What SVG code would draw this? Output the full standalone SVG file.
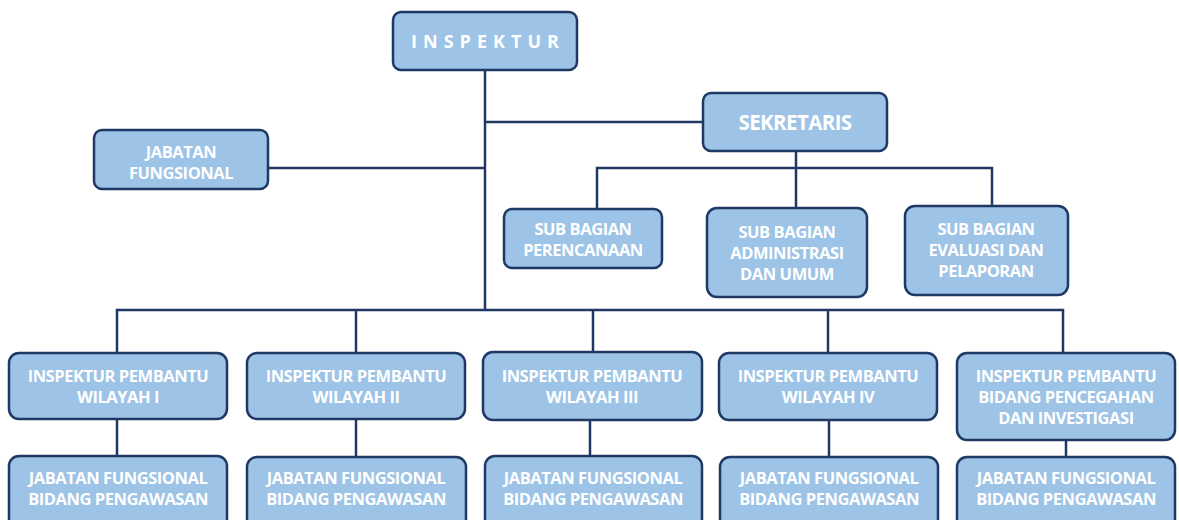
<svg xmlns="http://www.w3.org/2000/svg" width="1179" height="520" viewBox="0 0 1179 520">
<style>
.box{fill:#9DC3E6;stroke:#1F3864;stroke-width:2.5}
.t{font-family:"Open Sans","DejaVu Sans",sans-serif;font-weight:bold;fill:#FFFFFF;text-anchor:middle;font-size:16.5px;letter-spacing:-0.45px}
.c{fill:none;stroke:#1F3864;stroke-width:2.5}
</style>
<rect width="1179" height="520" fill="#FFFFFF"/>
<g id="connectors">
<path class="c" d="M485 70V310"/>
<path class="c" d="M485 122H703"/>
<path class="c" d="M268 168H485"/>
<path class="c" d="M796 151V168"/>
<path class="c" d="M597 209V168H992V206"/>
<path class="c" d="M796 168V208"/>
<path class="c" d="M117 353V310H1063V353"/>
<path class="c" d="M356 310V353"/>
<path class="c" d="M593 310V353"/>
<path class="c" d="M828 310V353"/>
<path class="c" d="M117 419V456"/>
<path class="c" d="M356 419V457"/>
<path class="c" d="M590 420V456"/>
<path class="c" d="M829 420V457"/>
<path class="c" d="M1066 440V457"/>
</g>
<g id="inspektur">
<rect class="box" x="393" y="12" width="184" height="58" rx="8"/>
<text class="t" x="488" y="48" style="font-size:18px;letter-spacing:6px">INSPEKTUR</text>
</g>
<g id="sekretaris">
<rect class="box" x="703" y="93" width="184" height="58" rx="8"/>
<text class="t" x="795" y="130" style="font-size:20.5px;letter-spacing:-0.6px">SEKRETARIS</text>
</g>
<g id="jabatan-fungsional">
<rect class="box" x="94" y="130" width="174" height="59" rx="8"/>
<text class="t" x="181" y="158">JABATAN</text>
<text class="t" x="181" y="179">FUNGSIONAL</text>
</g>
<g id="sub-perencanaan">
<rect class="box" x="504" y="209" width="158" height="59" rx="8"/>
<text class="t" x="583" y="235">SUB BAGIAN</text>
<text class="t" x="583" y="256">PERENCANAAN</text>
</g>
<g id="sub-administrasi">
<rect class="box" x="707" y="208" width="160" height="89" rx="10"/>
<text class="t" x="787" y="238">SUB BAGIAN</text>
<text class="t" x="787" y="259">ADMINISTRASI</text>
<text class="t" x="787" y="280">DAN UMUM</text>
</g>
<g id="sub-evaluasi">
<rect class="box" x="905" y="206" width="163" height="89" rx="10"/>
<text class="t" x="986" y="235">SUB BAGIAN</text>
<text class="t" x="986" y="256">EVALUASI DAN</text>
<text class="t" x="986" y="277">PELAPORAN</text>
</g>
<g id="irban-1">
<rect class="box" x="9" y="353" width="218" height="66" rx="10"/>
<text class="t" x="118" y="382">INSPEKTUR PEMBANTU</text>
<text class="t" x="118" y="403">WILAYAH I</text>
</g>
<g id="irban-2">
<rect class="box" x="247" y="353" width="218" height="66" rx="10"/>
<text class="t" x="356" y="382">INSPEKTUR PEMBANTU</text>
<text class="t" x="356" y="403">WILAYAH II</text>
</g>
<g id="irban-3">
<rect class="box" x="483" y="352" width="219" height="68" rx="10"/>
<text class="t" x="592" y="382">INSPEKTUR PEMBANTU</text>
<text class="t" x="592" y="403">WILAYAH III</text>
</g>
<g id="irban-4">
<rect class="box" x="719" y="353" width="218" height="67" rx="10"/>
<text class="t" x="828" y="382">INSPEKTUR PEMBANTU</text>
<text class="t" x="828" y="403">WILAYAH IV</text>
</g>
<g id="irban-5">
<rect class="box" x="957" y="353" width="218" height="87" rx="10"/>
<text class="t" x="1066" y="382">INSPEKTUR PEMBANTU</text>
<text class="t" x="1066" y="403">BIDANG PENCEGAHAN</text>
<text class="t" x="1066" y="424">DAN INVESTIGASI</text>
</g>
<g id="jf-1">
<rect class="box" x="9" y="456" width="218" height="80" rx="10"/>
<text class="t" x="118" y="484">JABATAN FUNGSIONAL</text>
<text class="t" x="118" y="505">BIDANG PENGAWASAN</text>
</g>
<g id="jf-2">
<rect class="box" x="247" y="457" width="219" height="80" rx="10"/>
<text class="t" x="356" y="484">JABATAN FUNGSIONAL</text>
<text class="t" x="356" y="505">BIDANG PENGAWASAN</text>
</g>
<g id="jf-3">
<rect class="box" x="485" y="456" width="217" height="80" rx="10"/>
<text class="t" x="593" y="484">JABATAN FUNGSIONAL</text>
<text class="t" x="593" y="505">BIDANG PENGAWASAN</text>
</g>
<g id="jf-4">
<rect class="box" x="720" y="457" width="218" height="80" rx="10"/>
<text class="t" x="829" y="484">JABATAN FUNGSIONAL</text>
<text class="t" x="829" y="505">BIDANG PENGAWASAN</text>
</g>
<g id="jf-5">
<rect class="box" x="957" y="457" width="218" height="80" rx="10"/>
<text class="t" x="1066" y="484">JABATAN FUNGSIONAL</text>
<text class="t" x="1066" y="505">BIDANG PENGAWASAN</text>
</g>
</svg>
